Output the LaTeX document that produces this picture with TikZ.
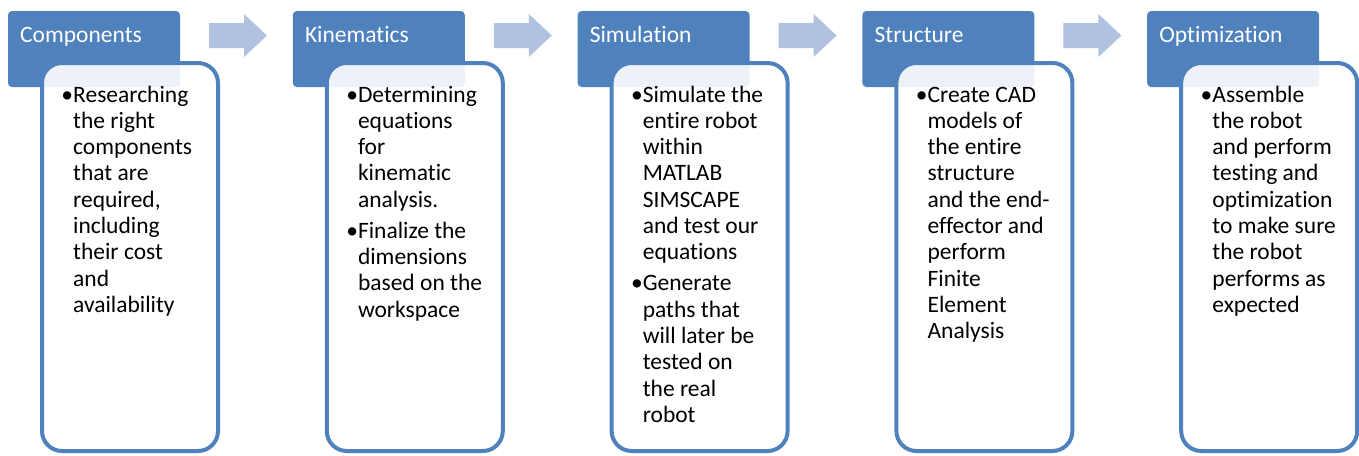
\documentclass[tikz,border=0pt]{standalone}
\usepackage{fontspec}
\setmainfont{Carlito}[Ligatures=NoCommon]
\definecolor{hdrblue}{HTML}{4F81BD}
\definecolor{arrblue}{HTML}{B0C2E0}
\newcommand{\bodyfont}{\fontsize{23.5pt}{26.3pt}\selectfont}
\newcommand{\bul}{\leavevmode\llap{•}}
\newcommand{\bgap}{\par\vspace{4.7pt}}
\begin{document}
\begin{tikzpicture}[x=1pt,y=-1pt,
  hdrbox/.style={fill=hdrblue, rounded corners=4pt},
  bodybox/.style={draw=hdrblue, line width=4pt, fill=white, fill opacity=0.9, rounded corners=20pt},
  hdrtext/.style={anchor=base west, inner sep=0pt, text=white, font=\bodyfont},
  bodytext/.style={anchor=base west, inner sep=0pt, font=\bodyfont},
  arrowshape/.style={fill=arrblue}]
\useasboundingbox (0,0) rectangle (1359,455);
\foreach \k in {0,...,4}{
  \fill[hdrbox] ({8+284.8*\k},11) rectangle ({180+284.8*\k},87);
  \path[bodybox] ({42+284.8*\k},63) rectangle ({218+284.8*\k},451);
}
\foreach \k in {0,...,3}{
  \begin{scope}[xshift={284.8*\k}]
  \fill[arrowshape] (209,23) -- (244,23) -- (244,14) -- (267,35.5) -- (244,57) -- (244,48) -- (209,48) -- cycle;
  \end{scope}
}
\node[hdrtext] (l1) at (20,42) {Components};
\node[hdrtext] (l2) at (304.8,42) {Kinematics};
\node[hdrtext] (l3) at (589.6,42) {Simulation};
\node[hdrtext] (l4) at (874.4,42) {Structure};
\node[hdrtext] (l5) at (1159.2,42) {Optimization};
\node[bodytext] (t1) at (73,102) {\parbox[t]{170pt}{\bul Researching\\the right\\components\\that are\\required,\\including\\their cost\\and\\availability}};
\node[bodytext] (t2) at (357.8,102) {\parbox[t]{170pt}{\bul Determining\\equations\\for\\kinematic\\analysis.\bgap\bul Finalize the\\dimensions\\based on the\\workspace}};
\node[bodytext] (t3) at (642.6,102) {\parbox[t]{170pt}{\bul Simulate the\\entire robot\\within\\MATLAB\\SIMSCAPE\\and test our\\equations\bgap\bul Generate\\paths that\\will later be\\tested on\\the real\\robot}};
\node[bodytext] (t4) at (927.4,102) {\parbox[t]{170pt}{\bul Create CAD\\models of\\the entire\\structure\\and the end-\\effector and\\perform\\Finite\\Element\\Analysis}};
\node[bodytext] (t5) at (1212.2,102) {\parbox[t]{170pt}{\bul Assemble\\the robot\\and perform\\testing and\\optimization\\to make sure\\the robot\\performs as\\expected}};
\end{tikzpicture}
\end{document}
